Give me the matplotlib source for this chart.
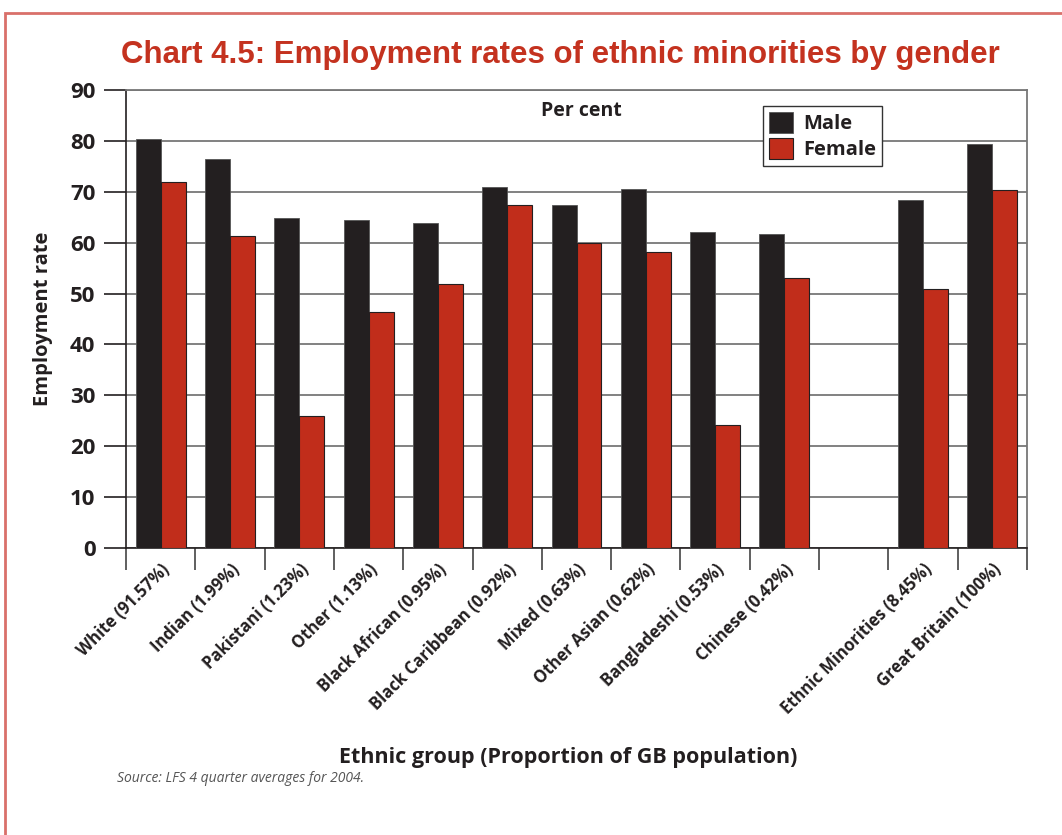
import numpy as np
import matplotlib
matplotlib.use("Agg")
import matplotlib.pyplot as plt
from matplotlib import font_manager
from matplotlib.patches import Rectangle

names = {f.name for f in font_manager.fontManager.ttflist}
title_font = "Liberation Sans Narrow" if "Liberation Sans Narrow" in names else "Liberation Sans"
label_font = "Open Sans" if "Open Sans" in names else "DejaVu Sans"

categories = ["White (91.57%)", "Indian (1.99%)", "Pakistani (1.23%)", "Other (1.13%)",
              "Black African (0.95%)", "Black Caribbean (0.92%)", "Mixed (0.63%)",
              "Other Asian (0.62%)", "Bangladeshi (0.53%)", "Chinese (0.42%)", "",
              "Ethnic Minorities (8.45%)", "Great Britain (100%)"]
male = [80.4, 76.4, 64.8, 64.5, 63.9, 70.9, 67.4, 70.5, 62.1, 61.7, 0, 68.4, 79.4]
female = [71.9, 61.3, 25.9, 46.4, 51.9, 67.4, 59.9, 58.2, 24.2, 53.0, 0, 50.9, 70.3]

MALE_C = "#231f20"
FEMALE_C = "#c12d1b"

fig = plt.figure(figsize=(10.62, 8.35), dpi=100)
ax = fig.add_axes([126/1062, 1-548/835, (1027-126)/1062, (548-90)/835])

x = np.arange(len(categories))
w = 0.36
ax.bar(x - w/2, male, w, color=MALE_C, edgecolor="#555555", linewidth=0.6, label="Male", zorder=3)
ax.bar(x + w/2, female, w, color=FEMALE_C, edgecolor=MALE_C, linewidth=0.8, label="Female", zorder=3)

ax.set_xlim(-0.5, len(categories) - 0.5)
ax.set_ylim(0, 90)
ax.set_yticks(np.arange(0, 91, 10))
ax.yaxis.grid(True, color="#777777", linewidth=1.3, zorder=0)
ax.set_axisbelow(True)
for s in ["top", "right"]:
    ax.spines[s].set_color("#777777")
    ax.spines[s].set_linewidth(1.3)
ax.spines["left"].set_color(MALE_C)
ax.spines["bottom"].set_color(MALE_C)
ax.spines["left"].set_linewidth(1.2)
ax.spines["bottom"].set_linewidth(1.2)

ax.tick_params(axis="y", length=16, width=1.2, color=MALE_C, pad=6)
for t in ax.get_yticklabels():
    t.set_fontfamily(label_font)
    t.set_fontweight("bold")
    t.set_fontsize(16)
    t.set_color(MALE_C)

# x ticks at category boundaries, labels at centres
ax.set_xticks(np.arange(-0.5, len(categories), 1.0))
ax.set_xticklabels([])
ax.tick_params(axis="x", length=16, width=1.2, color="#444444")
ax.set_xticks(x, minor=True)
ax.set_xticklabels(categories, minor=True, rotation=45, ha="right", rotation_mode="anchor",
                   fontfamily=label_font, fontweight="bold", fontsize=12, color=MALE_C)
ax.tick_params(axis="x", which="minor", length=0, pad=9)

ax.set_ylabel("Employment rate", fontfamily=label_font, fontweight="bold", fontsize=14.5,
              color=MALE_C, labelpad=12)

ax.text(0.505, 0.955, "Per cent", transform=ax.transAxes, ha="center", va="center",
        fontfamily=label_font, fontweight="bold", fontsize=14, color=MALE_C)

leg = ax.legend(loc="upper left", bbox_to_anchor=((763-126)/(1027-126), 1-(106-90)/458),
                prop={"family": label_font, "weight": "bold", "size": 14.5},
                frameon=True, fancybox=False, edgecolor="#333333", framealpha=1,
                handlelength=1.2, handleheight=1.2, handletextpad=0.5,
                borderpad=0.3, labelspacing=0.2, borderaxespad=0)
leg.get_frame().set_linewidth(1.0)
for t in leg.get_texts():
    t.set_color(MALE_C)

fig.text(560/1062, 1-55/835, "Chart 4.5: Employment rates of ethnic minorities by gender",
         ha="center", va="center", fontfamily=title_font, fontweight="bold", fontsize=22.5,
         color="#c4321f")
fig.text(568/1062, 1-757/835, "Ethnic group (Proportion of GB population)",
         ha="center", va="center", fontfamily=label_font, fontweight="bold", fontsize=15.5,
         color=MALE_C)
fig.text(117/1062, 1-779/835, "Source: LFS 4 quarter averages for 2004.",
         ha="left", va="center", fontfamily=label_font, style="italic", fontsize=10,
         color="#555555")

# outer red frame
fig.patches.append(Rectangle((5/1062, -0.05), 1.1, 1-13/835 + 0.05, transform=fig.transFigure,
                             fill=False, edgecolor="#d9706a", linewidth=2.0))

fig.savefig("out.png", dpi=100)
